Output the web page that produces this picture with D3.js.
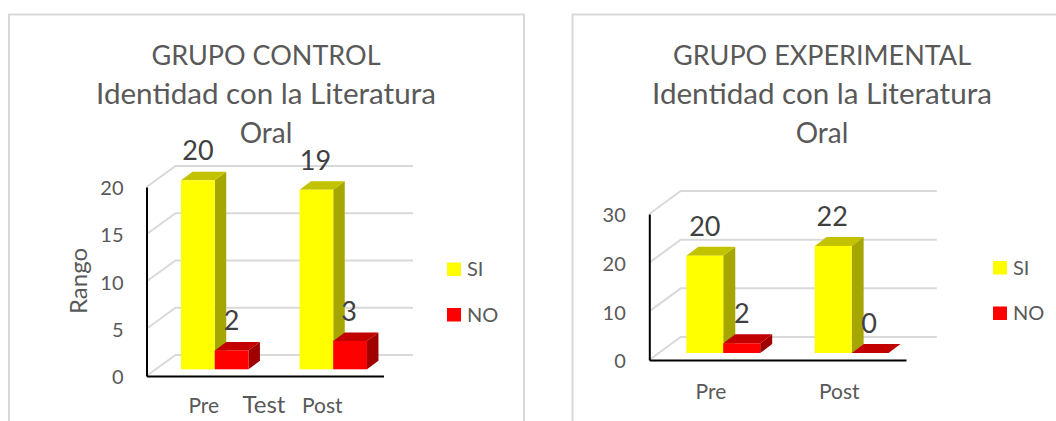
<!DOCTYPE html>
<html><head><meta charset="utf-8">
<script src="https://cdn.jsdelivr.net/npm/d3@7"></script>
<style>html,body{margin:0;padding:0;background:#fff}svg{display:block}text{font-family:Lato,"Open Sans",sans-serif}</style>
</head><body><svg id="c" width="1056" height="421"></svg>
<script>
const categories = ["Pre", "Post"];
const seriesNames = ["SI", "NO"];
const controlSI = [20, 19];
const controlNO = [2, 3];
const experimentalSI = [20, 22];
const experimentalNO = [2, 0];
const controlTicks = [0, 5, 10, 15, 20];
const experimentalTicks = [0, 10, 20, 30];
const controlTitle = ["GRUPO CONTROL", "Identidad con la Literatura", "Oral"];
const experimentalTitle = ["GRUPO EXPERIMENTAL", "Identidad con la Literatura", "Oral"];

const colors = {SI:{front:"#ffff00",top:"#c2c200",side:"#a6a600"},NO:{front:"#ff0000",top:"#c20000",side:"#a00000"}};
const titleSizes = [27, 29.6, 28];
const svg = d3.select("#c");
const txt = "#595959";

function chart(o){
  const g = svg.append("g");
  g.append("path").attr("d",`M${o.card[0]},421V${o.cardTop}H${o.card[1]}${o.closed?"V421":""}`)
   .attr("fill","none").attr("stroke","#d9d9d9").attr("stroke-width",2);
  g.append("g").selectAll("text").data(o.title).join("text")
   .attr("x",o.titleX).attr("y",(d,i)=>o.titleY+i*39).attr("text-anchor","middle")
   .attr("font-size",(d,i)=>titleSizes[i]).attr("fill",txt).text(d=>d);

  const y = d3.scaleLinear().domain([0,o.ticks[o.ticks.length-1]]).range([o.y0,o.y1]);
  const x = d3.scaleBand().domain(categories).range([o.x0,o.x1]).paddingInner(o.pad).paddingOuter(o.pad/2);
  const sub = d3.scaleBand().domain(seriesNames).range([0,x.bandwidth()]);

  const grid = g.append("g").attr("fill","none").attr("stroke","#d9d9d9").attr("stroke-width",2);
  grid.selectAll("path").data(o.ticks).join("path")
    .attr("d",d=>`M${o.x0},${y(d)}L${o.x0+o.wall[0]},${y(d)-o.wall[1]}H${o.gridEnd}`);

  const rows = [];
  categories.forEach((c,i)=>seriesNames.forEach((s,j)=>rows.push({c,s,v:o.data[j][i]})));
  const bars = g.append("g").selectAll("g").data(rows).join("g");
  const L = d=>x(d.c)+sub(d.s)+o.front[0], W = sub.bandwidth();
  const B = o.y0-o.front[1], T = d=>y(d.v)-o.front[1];
  const [dx,dy] = o.depth;
  bars.append("path").attr("fill",d=>colors[d.s].side)
    .attr("d",d=>`M${L(d)+W},${T(d)}l${dx},${-dy}V${B-dy}l${-dx},${dy}Z`);
  bars.append("path").attr("fill",d=>colors[d.s].top)
    .attr("d",d=>`M${L(d)},${T(d)}l${dx},${-dy}h${W}l${-dx},${dy}Z`);
  bars.append("rect").attr("fill",d=>colors[d.s].front)
    .attr("x",L).attr("y",T).attr("width",W).attr("height",d=>B-T(d));

  const ay = d3.axisLeft(y).tickValues(o.ticks).tickSize(0).tickPadding(o.tickPad).tickFormat(d3.format("d"));
  const gy = g.append("g").attr("transform",`translate(${o.x0},0)`).call(ay);
  gy.select(".domain").attr("stroke","#000").attr("stroke-width",2);
  gy.selectAll("text").attr("font-size",20).attr("font-family","Lato").attr("fill",txt).attr("y",o.tickShift).attr("dy","0.36em");
  const ax = d3.axisBottom(x).tickSize(0).tickPadding(o.catPad);
  const gx = g.append("g").attr("transform",`translate(0,${o.y0})`).call(ax);
  gx.select(".domain").attr("stroke","#000").attr("stroke-width",2);
  gx.selectAll("text").attr("font-size",21).attr("font-family","Lato").attr("fill",txt).attr("dx",o.catDx);

  g.append("g").selectAll("text").data(rows).join("text")
    .attr("x",d=>L(d)+W/2+(d.c==="Post"?-1:0)).attr("y",d=>T(d)-20)
    .attr("text-anchor","middle").attr("font-size",27).attr("fill","#404040").text(d=>d.v);

  const lg = g.append("g").selectAll("g").data(seriesNames).join("g")
    .attr("transform",(d,i)=>`translate(${o.legX},${o.legY+i*45.5})`);
  lg.append("rect").attr("width",14).attr("height",13.5).attr("fill",d=>colors[d].front);
  lg.append("text").attr("x",20).attr("y",13.5).attr("font-size",20).attr("fill",txt).text(d=>d);

  (o.extra||[]).forEach(e=>{
    g.append("text").attr("transform",`translate(${e.x},${e.y}) rotate(${e.r||0})`)
     .attr("text-anchor","middle").attr("font-size",e.size).attr("fill",txt).text(e.t);
  });
}

chart({
  card:[9,524],closed:true,cardTop:14.5,title:controlTitle,titleX:266,titleY:65,
  data:[controlSI,controlNO],ticks:controlTicks,
  x0:146.5,x1:383.5,y0:376,y1:187,wall:[29,21],gridEnd:413,pad:0.431,
  front:[9,6.7],depth:[11.5,8.5],tickPad:23,tickShift:0.5,catPad:22,catDx:-2,
  legX:447,legY:262.5,
  extra:[{t:"Rango",x:87,y:281,r:-90,size:24},{t:"Test",x:264,y:413,size:24}]
});
chart({
  card:[572.5,1057],closed:false,cardTop:14.5,title:experimentalTitle,titleX:822,titleY:65,
  data:[experimentalSI,experimentalNO],ticks:experimentalTicks,
  x0:649.3,x1:906,y0:360,y1:214,wall:[31.4,23],gridEnd:936.7,pad:0.425,
  front:[9.8,7],depth:[12,9],tickPad:23.5,tickShift:0.5,catPad:24,catDx:-2.5,
  legX:993,legY:261
});
</script></body></html>
